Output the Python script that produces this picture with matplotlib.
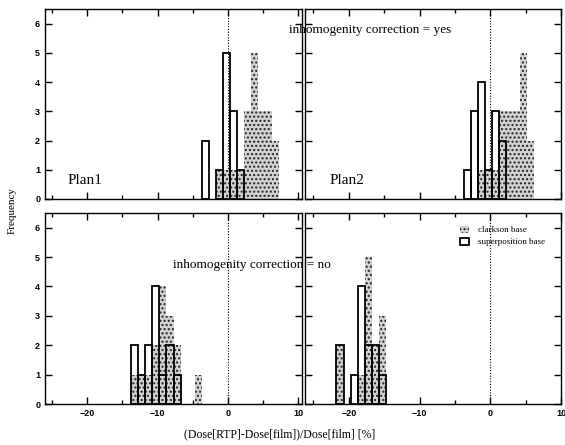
import numpy as np
import matplotlib
matplotlib.use("Agg")
import matplotlib.pyplot as plt
from matplotlib.patches import Patch
from matplotlib.ticker import MultipleLocator

plt.rcParams['font.family'] = ['Liberation Serif', 'DejaVu Serif']
plt.rcParams['hatch.linewidth'] = 1.0

# histogram bin centres (bin width 1 %) and counts per panel
# Plan1, inhomogenity correction = yes
p1_yes_sup_x = [-3.25, -1.25, -0.25, 0.75, 1.75]
p1_yes_sup_n = [2, 1, 5, 3, 1]
p1_yes_clk_x = [-1.25, -0.25, 0.75, 1.75, 2.75, 3.75, 4.75, 5.75, 6.75]
p1_yes_clk_n = [1, 1, 1, 1, 3, 5, 3, 3, 2]
# Plan2, inhomogenity correction = yes
p2_yes_sup_x = [-3.25, -2.25, -1.25, -0.25, 0.75, 1.75]
p2_yes_sup_n = [1, 3, 4, 1, 3, 2]
p2_yes_clk_x = [-1.25, -0.25, 0.75, 1.75, 2.75, 3.75, 4.75, 5.75]
p2_yes_clk_n = [1, 1, 1, 3, 3, 3, 5, 2]
# Plan1, inhomogenity correction = no
p1_no_sup_x = [-13.25, -12.25, -11.25, -10.25, -9.25, -8.25, -7.25]
p1_no_sup_n = [2, 1, 2, 4, 1, 2, 1]
p1_no_clk_x = [-13.25, -12.25, -11.25, -10.25, -9.25, -8.25, -7.25, -4.25]
p1_no_clk_n = [1, 1, 1, 2, 4, 3, 2, 1]
# Plan2, inhomogenity correction = no
p2_no_sup_x = [-21.25, -19.25, -18.25, -17.25, -16.25, -15.25]
p2_no_sup_n = [2, 1, 4, 2, 2, 1]
p2_no_clk_x = [-21.25, -18.25, -17.25, -16.25, -15.25]
p2_no_clk_n = [2, 1, 5, 2, 3]

CLK_FACE = '#d2d2d2'
CLK_DOTS = '#222222'

W, H = 565, 445
fig = plt.figure(figsize=(W / 100, H / 100), dpi=100)

def px_axes(l, r, t, b):
    return fig.add_axes([l / W, (H - b) / H, (r - l) / W, (b - t) / H])

ax_tl = px_axes(45, 302, 9, 199)
ax_tr = px_axes(305, 561, 9, 199)
ax_bl = px_axes(45, 302, 213, 404)
ax_br = px_axes(305, 561, 213, 404)

def draw(ax, clk_x, clk_n, sup_x, sup_n, xlim):
    ax.bar(clk_x, clk_n, width=1.0, facecolor=CLK_FACE, edgecolor=CLK_DOTS,
           hatch='....', linewidth=0, zorder=2)
    ax.bar(sup_x, sup_n, width=1.0, facecolor='none', edgecolor='black',
           linewidth=1.3, zorder=3)
    ax.axvline(0, color='black', linestyle=(0, (1, 1.5)), linewidth=0.8, zorder=1)
    ax.set_xlim(*xlim)
    ax.set_ylim(0, 6.5)
    ax.xaxis.set_major_locator(MultipleLocator(10))
    ax.xaxis.set_minor_locator(MultipleLocator(5))
    ax.yaxis.set_major_locator(MultipleLocator(1))
    ax.tick_params(which='both', direction='in', top=True, right=True, width=1.0)
    ax.tick_params(which='major', length=5)
    ax.tick_params(which='minor', length=3)
    for s in ax.spines.values():
        s.set_linewidth(1.0)
    for lab in ax.get_xticklabels() + ax.get_yticklabels():
        lab.set_fontfamily('Liberation Sans')
        lab.set_fontweight('bold')
        lab.set_fontsize(6.5)

draw(ax_tl, p1_yes_clk_x, p1_yes_clk_n, p1_yes_sup_x, p1_yes_sup_n, (-26, 10.5))
draw(ax_tr, p2_yes_clk_x, p2_yes_clk_n, p2_yes_sup_x, p2_yes_sup_n, (-26.2, 10))
draw(ax_bl, p1_no_clk_x, p1_no_clk_n, p1_no_sup_x, p1_no_sup_n, (-26, 10.5))
draw(ax_br, p2_no_clk_x, p2_no_clk_n, p2_no_sup_x, p2_no_sup_n, (-26.2, 10))

for ax in (ax_tl, ax_tr):
    ax.tick_params(labelbottom=False)
for ax in (ax_tr, ax_br):
    ax.tick_params(labelleft=False)

ax_tl.text(-22.8, 0.5, 'Plan1', fontsize=11)
ax_tr.text(-22.8, 0.5, 'Plan2', fontsize=11)
fig.text(370 / W, 1 - 30 / H, 'inhomogenity correction = yes', fontsize=9.5,
         ha='center', va='center')
fig.text(252 / W, 1 - 265 / H, 'inhomogenity correction = no', fontsize=9.5,
         ha='center', va='center')

handles = [Patch(facecolor=CLK_FACE, edgecolor=CLK_DOTS, hatch='....', linewidth=0),
           Patch(facecolor='none', edgecolor='black', linewidth=1.3)]
ax_br.legend(handles, ['clarkson base', 'superposition base'], loc='upper right',
             bbox_to_anchor=(0.97, 0.975), frameon=False, fontsize=6.5,
             handlelength=1.0, handleheight=0.8, handletextpad=1.0, labelspacing=0.35)

fig.text(12 / W, 1 - 210 / H, 'Frequency', rotation=90, ha='center', va='center', fontsize=8)
fig.text(280 / W, 1 - 434 / H, '(Dose[RTP]-Dose[film])/Dose[film] [%]',
         ha='center', va='center', fontsize=8.5)

fig.savefig('out.png', dpi=100)
